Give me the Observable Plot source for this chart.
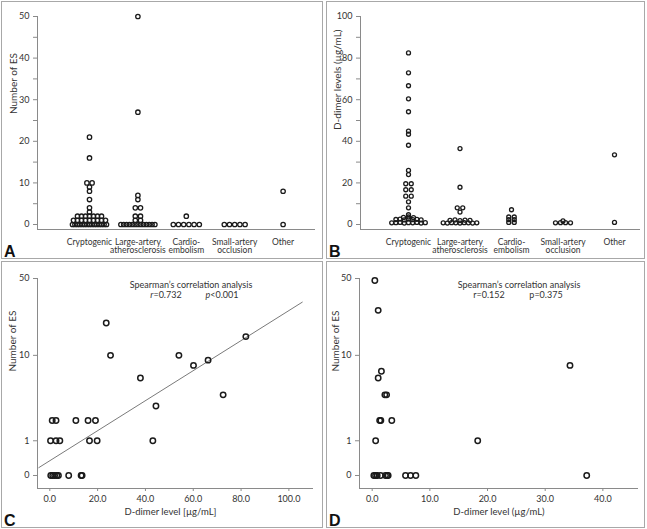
<!DOCTYPE html>
<html>
<head>
<meta charset="utf-8">
<script src="https://cdn.jsdelivr.net/npm/d3@7"></script>
<script src="https://cdn.jsdelivr.net/npm/@observablehq/plot@0.6"></script>
<style>
  body { margin: 0; background: #fff; font-family: Lato, "Open Sans", sans-serif; }
  #fig { position: relative; width: 647px; height: 529px; overflow: hidden; }
  .panel { position: absolute; box-sizing: border-box; border: 1px solid #a8a8a8; }
  .panel svg { position: absolute; left: 0; top: 0; }
  .letter { position: absolute; font: bold 16px "Liberation Sans", Arial, sans-serif; line-height: 16px; color: #111; }
  .ann { position: absolute; font: 9px Lato, sans-serif; color: #333; white-space: nowrap; transform: translate(-50%, -50%); line-height: 9px; }
</style>
</head>
<body>
<div id="fig"></div>
<script>
// ---------------- DATA ----------------
const categories = ["Cryptogenic", "Large-artery\natherosclerosis", "Cardio-\nembolism", "Small-artery\nocclusion", "Other"];

// Panel A: number of embolic signals (ES) per patient, by stroke subtype
const esCryptogenic = [21,16,10,10,9,8,6,4,3, 2,2,2,2,2,2,2, 1,1,1,1,1,1,1,1,1, 0,0,0,0,0,0,0,0,0,0,0,0,0,0,0];
const esLargeArtery = [50,27,7,6,4,4,2,2,1,1, 0,0,0,0,0,0,0,0,0,0,0,0,0];
const esCardioembolism = [2, 0,0,0,0,0,0];
const esSmallArtery = [0,0,0,0,0];
const esOther = [8, 0];
const esTicksA = [0,10,20,30,40,50];
const esMinorTicksA = [5,15,25,35,45];

// Panel B: D-dimer levels (µg/mL), by stroke subtype
const ddCryptogenic = [82.5,72.9,66.7,60.4,54.2,44.9,43.4,38.1,26.0,24.0,19.6,19.6,16.7,16.7,13.6,13.6,10.9,8.0,
  4.7, 3.4,3.6,3.3, 2.4,2.6,2.2,2.7,2.3,2.5,2.2, 0.8,0.9,1.0,0.7,0.9,0.8,1.0,0.7,0.9];
const ddLargeArtery = [36.5,17.9,8.0,8.0,6.0, 2.0,2.2,1.9,2.1,2.0, 0.8,0.7,0.9,0.8,0.7,0.9,0.8,0.7,0.8];
const ddCardioembolism = [7.1, 3.6,3.6, 2.3,2.3, 1.0,1.0];
const ddSmallArtery = [0.8,0.9,1.7,0.9,0.8];
const ddOther = [33.5, 1.0];
const ddTicksB = [0,20,40,60,80,100];
const ddMinorTicksB = [10,30,50,70,90];

// Panel C: cryptogenic stroke, D-dimer vs number of ES
const cDdimer = [23.6,25.4,82.0,54.0,60.1,66.2,37.9,72.5,44.4, 1.0,2.6,10.9,16.0,19.1, 0.3,2.6,4.2,16.6,19.8,43.1, 0.4,1.2,2.0,2.9,3.6,7.9,13.1,13.5];
const cES     = [20,10,15,10,8,9,6,4,3, 2,2,2,2,2, 1,1,1,1,1,1, 0,0,0,0,0,0,0,0];
const cFitDdimer = [-4.6, 105.6];
const cFitES = [0.17, 30.8];
const cXTicks = [0,20,40,60,80,100];

// Panel D: other stroke subtypes, D-dimer vs number of ES
const dDdimer = [0.46,1.04,34.3,1.6,1.04,2.2,2.5,1.3,1.5,3.4,0.6,18.3, 0.29,0.58,0.87,1.45,2.31,2.6,2.77,5.78,6.65,7.57,37.2];
const dES     = [48,26,8,7,6,4,4,2,2,2,1,1, 0,0,0,0,0,0,0,0,0,0,0];
const dXTicks = [0,10,20,30,40];

const esTicksCD = [0,1,10,50];

// ---------------- HELPERS ----------------
const fig = document.getElementById("fig");
const AXIS = "#8a8a8a", TXT = "#333", DOT = "#1b1b1b";
const baseStyle = {fontFamily: "Lato, 'Open Sans', sans-serif", fontSize: "9px", color: TXT, background: "transparent", overflow: "visible"};

function panel(left, top, w, h, letter, svg) {
  const div = document.createElement("div");
  div.className = "panel";
  Object.assign(div.style, {left: left + "px", top: top + "px", width: w + "px", height: h + "px"});
  div.appendChild(svg);
  fig.appendChild(div);
  const L = document.createElement("div");
  L.className = "letter"; L.textContent = letter;
  Object.assign(L.style, {left: (left + 3) + "px", top: (top + h - 15) + "px"});
  fig.appendChild(L);
}
function ann(x, y, html) {
  const d = document.createElement("div");
  d.className = "ann"; d.innerHTML = html;
  Object.assign(d.style, {left: x + "px", top: y + "px"});
  fig.appendChild(d);
}
// spread dots sharing (about) the same value side by side, centred on the category
function layout(groups, binW, spacing, unitPx) {
  const rows = [];
  groups.forEach((vals, ci) => {
    const g = d3.group(vals, v => Math.floor(v / binW + 1e-9));
    for (const [, arr] of g) {
      const n = arr.length, s = spacing(n);
      arr.forEach((v, k) => rows.push({cat: ci, v, x: ci + ((k - (n - 1) / 2) * s) / unitPx}));
    }
  });
  return rows;
}

// ---------------- PANEL A ----------------
{
  const W = 320, H = 256, mL = 35, mR = 7, mT = 14, mB = 29;
  const x0 = 87, unit = 48.4;
  const xDom = [(mL - x0) / unit, (W - mR - x0) / unit];
  const yDom = [-1.2, 50];
  const rows = layout([esCryptogenic, esLargeArtery, esCardioembolism, esSmallArtery, esOther], 1,
    n => n === 1 ? 0 : n <= 6 ? 5.2 : Math.min(4, 34 / (n - 1)), unit);
  const svg = Plot.plot({
    width: W, height: H, marginLeft: mL, marginRight: mR, marginTop: mT, marginBottom: mB,
    style: baseStyle,
    x: {domain: xDom}, y: {domain: yDom},
    marks: [
      Plot.ruleX([xDom[0]], {stroke: AXIS}),
      Plot.ruleY([yDom[0]], {stroke: AXIS}),
      Plot.axisY(esTicksA, {tickSize: 4, tickPadding: 4, stroke: AXIS, fill: TXT, label: null}),
      Plot.axisY(esMinorTicksA, {tickSize: 4, tickFormat: () => "", stroke: AXIS, label: null}),
      Plot.axisX([0,1,2,3,4], {tickSize: 0, tickPadding: 9, tickFormat: i => categories[i], fill: TXT, fontSize: 8.5, label: null}),
      Plot.text(["Number of ES"], {frameAnchor: "left", rotate: -90, dx: -24, dy: -9, fill: TXT, fontSize: 10}),
      Plot.dot(rows, {x: "x", y: "v", r: 2.2, stroke: DOT, strokeWidth: 1.3, fill: "none"})
    ]
  });
  panel(1, 1, 322, 258, "A", svg);
}

// ---------------- PANEL B ----------------
{
  const W = 317, H = 256, mL = 33, mR = 4, mT = 14, mB = 29;
  const x0 = 81, unit = 51.5;
  const xDom = [(mL - x0) / unit, (W - mR - x0) / unit];
  const yDom = [-2.4, 100];
  const rows = layout([ddCryptogenic, ddLargeArtery, ddCardioembolism, ddSmallArtery, ddOther], 1.5,
    n => n === 1 ? 0 : n === 2 ? 5.5 : n <= 6 ? 5 : Math.min(4.2, 34 / (n - 1)), unit);
  const svg = Plot.plot({
    width: W, height: H, marginLeft: mL, marginRight: mR, marginTop: mT, marginBottom: mB,
    style: baseStyle,
    x: {domain: xDom}, y: {domain: yDom},
    marks: [
      Plot.ruleX([xDom[0]], {stroke: AXIS}),
      Plot.ruleY([yDom[0]], {stroke: AXIS}),
      Plot.axisY(ddTicksB, {tickSize: 4, tickPadding: 4, stroke: AXIS, fill: TXT, label: null}),
      Plot.axisY(ddMinorTicksB, {tickSize: 4, tickFormat: () => "", stroke: AXIS, label: null}),
      Plot.axisX([0,1,2,3,4], {tickSize: 0, tickPadding: 9, tickFormat: i => categories[i], fill: TXT, fontSize: 8.5, label: null}),
      Plot.text(["D-dimer levels (µg/mL)"], {frameAnchor: "left", rotate: -90, dx: -23, dy: 7, fill: TXT, fontSize: 10}),
      Plot.dot(rows, {x: "x", y: "v", r: 2.0, stroke: DOT, strokeWidth: 1.3, fill: "none"})
    ]
  });
  panel(326, 1, 319, 258, "B", svg);
}

// ---------------- PANEL C ----------------
{
  const W = 320, H = 265, mL = 35, mR = 9, mT = 16, mB = 39;
  const xDom = [-5.15, 110.3];
  const yDom = [-0.2963, 50];
  const svg = Plot.plot({
    width: W, height: H, marginLeft: mL, marginRight: mR, marginTop: mT, marginBottom: mB,
    style: baseStyle,
    x: {domain: xDom}, y: {type: "symlog", constant: 1, domain: yDom},
    marks: [
      Plot.ruleX([xDom[0]], {stroke: AXIS}),
      Plot.ruleY([yDom[0]], {stroke: AXIS}),
      Plot.axisY(esTicksCD, {tickSize: 4, tickPadding: 4, stroke: AXIS, fill: TXT, label: null}),
      Plot.axisX(cXTicks, {tickSize: 3, tickPadding: 4, tickFormat: d3.format(".1f"), stroke: AXIS, fill: TXT, label: null}),
      Plot.text(["Number of ES"], {frameAnchor: "left", rotate: -90, dx: -25, dy: -12, fill: TXT, fontSize: 10}),
      Plot.text(["D-dimer level [µg/mL]"], {frameAnchor: "bottom", dx: -5, dy: 26, fill: TXT, fontSize: 9.5}),
      Plot.line(cFitDdimer, {x: d => d, y: (d, i) => cFitES[i], stroke: "#7a7a7a", strokeWidth: 1}),
      Plot.dot(cDdimer, {x: d => d, y: (d, i) => cES[i], r: 2.7, stroke: DOT, strokeWidth: 1.5, fill: "none"})
    ]
  });
  panel(1, 261, 322, 267, "C", svg);
  ann(191, 284, "Spearman’s correlation analysis");
  ann(166, 293.5, "<i>r</i>=0.732");
  ann(222, 293.5, "<i>p</i>&lt;0.001");
}

// ---------------- PANEL D ----------------
{
  const W = 317, H = 265, mL = 32, mR = 6, mT = 16, mB = 39;
  const xDom = [-2.2, 46.18];
  const yDom = [-0.2963, 50];
  const svg = Plot.plot({
    width: W, height: H, marginLeft: mL, marginRight: mR, marginTop: mT, marginBottom: mB,
    style: baseStyle,
    x: {domain: xDom}, y: {type: "symlog", constant: 1, domain: yDom},
    marks: [
      Plot.ruleX([xDom[0]], {stroke: AXIS}),
      Plot.ruleY([yDom[0]], {stroke: AXIS}),
      Plot.axisY(esTicksCD, {tickSize: 4, tickPadding: 4, stroke: AXIS, fill: TXT, label: null}),
      Plot.axisX(dXTicks, {tickSize: 3, tickPadding: 4, tickFormat: d3.format(".1f"), stroke: AXIS, fill: TXT, label: null}),
      Plot.text(["Number of ES"], {frameAnchor: "left", rotate: -90, dx: -24, dy: -12, fill: TXT, fontSize: 10}),
      Plot.text(["D-dimer level (µg/mL)"], {frameAnchor: "bottom", dx: 0, dy: 26, fill: TXT, fontSize: 9.5}),
      Plot.dot(dDdimer, {x: d => d, y: (d, i) => dES[i], r: 2.7, stroke: DOT, strokeWidth: 1.5, fill: "none"})
    ]
  });
  panel(326, 261, 319, 267, "D", svg);
  ann(519, 284, "Spearman’s correlation analysis");
  ann(489, 293.5, "r=0.152");
  ann(546, 293.5, "p=0.375");
}
</script>
</body>
</html>
